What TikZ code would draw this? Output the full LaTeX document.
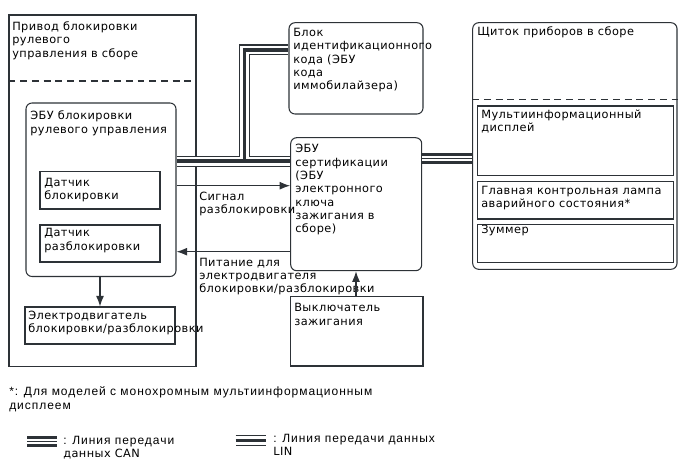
\documentclass[tikz,border=0pt]{standalone}
\usepackage{fontspec}
\setmainfont{DejaVu Sans}[LetterSpace=4]
\newfontfamily\lsans{Liberation Sans}[LetterSpace=8]
\usetikzlibrary{fit,arrows.meta}
\definecolor{lc}{RGB}{45,50,55}
\newcommand{\mlines}[1]{\begin{tabular}[t]{@{}l@{}}#1\end{tabular}}
\begin{document}
\begin{tikzpicture}[x=0.75pt,y=-0.75pt,
  box/.style={draw=lc, line width=0.8pt, inner sep=0pt},
  rbox/.style={box, rounded corners=4.5pt},
  txt/.style={anchor=base west, inner sep=0pt, text=black, font=\fontsize{8.5}{10}\selectfont},
  ftxt/.style={txt, font=\lsans\fontsize{9}{11}\selectfont},
  arr/.style={draw=lc, line width=0.8pt, -{Latex[length=8pt,width=6pt]}},
  dsh/.style={draw=lc, line width=0.8pt, dash pattern=on 5.2pt off 3.6pt},
  linA/.style={draw=lc, line width=8.25pt},
  linB/.style={draw=white, line width=6.6pt},
  linC/.style={draw=lc, line width=2.7pt},
  canA/.style={draw=lc, line width=8pt},
  canB/.style={draw=white, line width=3.4pt},
  canC/.style={draw=lc, line width=0.6pt}]
\useasboundingbox (0,0) rectangle (688,463);

% boxes
\node[box, fit={(9,15)(196,366.5)}] (drive) {};
\node[rbox, fit={(26,103)(176,276.5)}] (ecu) {};
\node[box, fit={(40,171.5)(160,209)}] (s1) {};
\node[box, fit={(40,225)(160,262)}] (s2) {};
\node[box, fit={(25,307)(175,344)}] (mot) {};
\node[rbox, fit={(289,22.7)(423,114)}] (idb) {};
\node[rbox, fit={(290.7,137.7)(421.7,270.7)}] (cert) {};
\node[box, fit={(290.7,296.7)(423,366)}] (sw) {};
\node[rbox, fit={(472.7,22.7)(677,269.3)}] (meter) {};
\node[box, fit={(477.3,106)(673.3,175.7)}] (mid) {};
\node[box, fit={(477.3,181.7)(673.3,219)}] (lamp) {};
\node[box, fit={(477.3,224.3)(673.3,262.3)}] (buz) {};

% dashed separators
\draw[dsh] (drive.west |- 0,81) -- (drive.east |- 0,81);
\draw[dsh] (meter.west |- 0,99.3) -- (meter.east |- 0,99.3);

% texts
\node[txt] (tdrive) at (12,30.5) {\mlines{Привод блокировки\\рулевого\\управления в сборе}};
\node[txt] (tecu) at (30,120) {\mlines{ЭБУ блокировки\\рулевого управления}};
\node[txt] (ts1) at (44,186.5) {\mlines{Датчик\\блокировки}};
\node[txt] (ts2) at (44,237) {\mlines{Датчик\\разблокировки}};
\node[txt] (tmot) at (28,319) {\mlines{Электродвигатель\\блокировки/разблокировки}};
\node[txt] (tid) at (293,36.5) {\mlines{Блок\\идентификационного\\кода (ЭБУ\\кода\\иммобилайзера)}};
\node[txt] (tcert) at (295,153) {\mlines{ЭБУ\\сертификации\\(ЭБУ\\электронного\\ключа\\зажигания в\\сборе)}};
\node[txt] (tsw) at (294,311.7) {\mlines{Выключатель\\зажигания}};
\node[txt] (tsig) at (199,200) {\mlines{Сигнал\\разблокировки}};
\node[txt] (tpow) at (199,266) {\mlines{Питание для\\электродвигателя\\блокировки/разблокировки}};
\node[txt] (tmeter) at (477,36) {Щиток приборов в сборе};
\node[txt] (tmid) at (481,118.3) {\mlines{Мультиинформационный\\дисплей}};
\node[txt] (tlamp) at (481,194.3) {\mlines{Главная контрольная лампа\\аварийного состояния*}};
\node[txt] (tbuz) at (481,233.3) {Зуммер};
\node[ftxt] (tfn) at (9,395) {\mlines{*: Для моделей с монохромным мультиинформационным\\дисплеем}};
\node[txt] (tcan) at (63,444) {\mlines{{\lsans\fontsize{9}{10}\selectfont : Линия передачи}\\данных CAN}};
\node[txt] (tlin) at (273,442) {\mlines{{\lsans\fontsize{9}{10}\selectfont : Линия передачи данных}\\LIN}};

% arrows
\draw[arr] (ecu.east |- 0,185.7) -- (cert.west |- 0,185.7);
\draw[arr] (cert.west |- 0,251.7) -- (ecu.east |- 0,251.7);
\draw[arr] (ecu.south -| 100,0) -- (mot.north -| 100,0);
\draw[arr] (sw.north -| 356,0) -- (cert.south -| 356,0);

% LIN bus
\coordinate (jn) at (244.5,161.3);
\foreach \s in {linA,linB,linC}{
  \draw[\s] (ecu.east |- jn) -- (cert.west |- jn);
  \draw[\s] (jn) -- (jn |- 0,50) -- (idb.west |- 0,50);
}
% CAN bus
\foreach \s in {canA,canB,canC}{
  \draw[\s] (cert.east |- 0,158.5) -- (meter.west |- 0,158.5);
}
% legend
\coordinate (cl1) at (27,441.5);
\coordinate (cl2) at (57,441.5);
\coordinate (ll1) at (235.5,440.5);
\coordinate (ll2) at (266,440.5);
\foreach \s in {canA,canB,canC}{\draw[\s] (cl1) -- (cl2);}
\foreach \s in {linA,linB,linC}{\draw[\s] (ll1) -- (ll2);}
\end{tikzpicture}
\end{document}
